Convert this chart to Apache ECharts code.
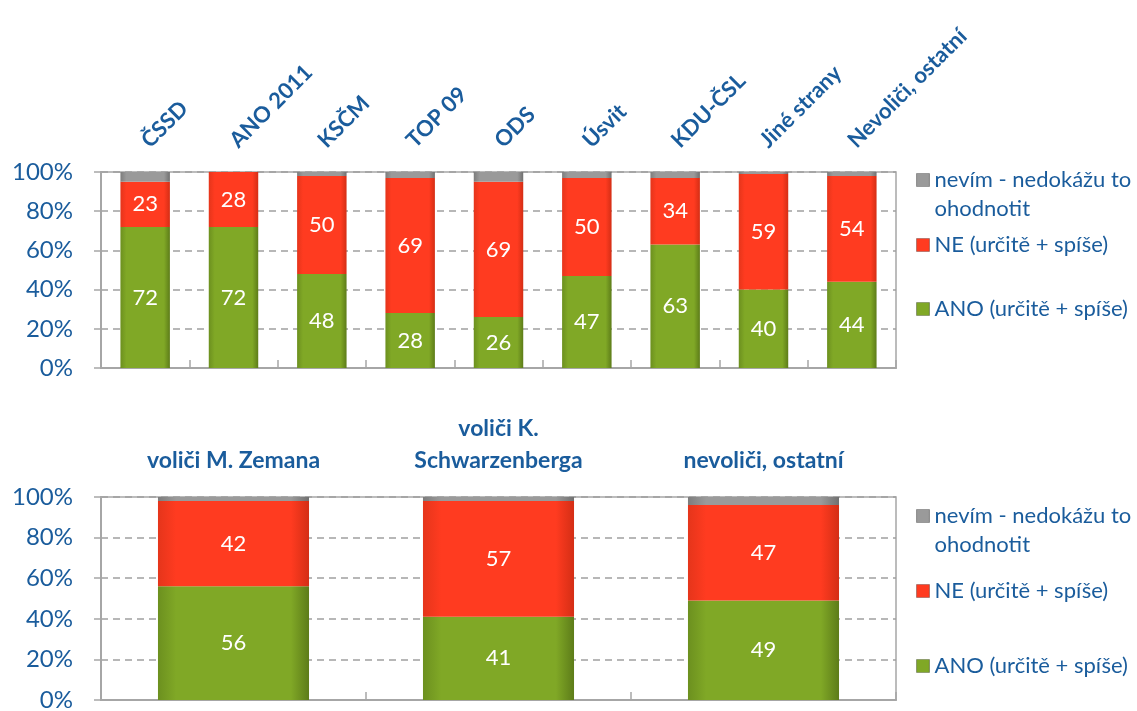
<!DOCTYPE html>
<html lang="cs">
<head>
    <meta charset="UTF-8">
    <title>Hodnocení</title>
    <script src="https://cdn.jsdelivr.net/npm/echarts@6/dist/echarts.min.js"></script>
    <style>
        html, body { margin: 0; padding: 0; background: #fff; }
        #chart { width: 1137px; height: 711px; }
    </style>
</head>
<body>
    <div id="chart"></div>
    <script>
        // horni graf - strany
        var topCats = ['ČSSD', 'ANO 2011', 'KSČM', 'TOP 09', 'ODS', 'Úsvit', 'KDU-ČSL', 'Jiné strany', 'Nevoliči, ostatní'];
        var topAno = [72, 72, 48, 28, 26, 47, 63, 40, 44];
        var topNe = [23, 28, 50, 69, 69, 50, 34, 59, 54];
        var topNevim = [5, 0, 2, 3, 5, 3, 3, 1, 2];

        // dolni graf - volici kandidatu
        var bottomCats = ['voliči M. Zemana', 'voliči K.\nSchwarzenberga', 'nevoliči, ostatní'];
        var bottomAno = [56, 41, 49];
        var bottomNe = [42, 57, 47];
        var bottomNevim = [2, 2, 4];

        var seriesNames = ['ANO (určitě + spíše)', 'NE (určitě + spíše)', 'nevím - nedokážu to\nohodnotit'];
        var yTicks = [0, 20, 40, 60, 80, 100];

        var FONT = 'Lato';
        var BLUE = '#1a5c9c';
        var AXIS = '#a6a6a6';

        function hGrad(edge, mid, edge2) {
            return new echarts.graphic.LinearGradient(0, 0, 1, 0, [
                { offset: 0, color: edge },
                { offset: 0.12, color: mid },
                { offset: 0.88, color: mid },
                { offset: 1, color: edge2 }
            ]);
        }
        var colors = [
            hGrad('#6c901f', '#80a826', '#5d7c19'),
            hGrad('#e5351b', '#ff3b20', '#d42e15'),
            hGrad('#7d7d7d', '#9a9a9a', '#707070')
        ];

        function yAxis(idx) {
            return {
                type: 'value',
                gridIndex: idx,
                min: yTicks[0],
                max: yTicks[yTicks.length - 1],
                interval: 20,
                axisLine: { show: true, lineStyle: { color: AXIS, width: 2 } },
                axisTick: { show: true, length: 7, lineStyle: { color: AXIS, width: 1.5 } },
                axisLabel: {
                    formatter: '{value}%',
                    color: BLUE,
                    fontFamily: FONT,
                    fontSize: 24,
                    margin: 28
                },
                splitLine: { show: true, lineStyle: { color: '#a0a0a0', width: 1.5, type: [7, 5] } }
            };
        }

        function xAxis(idx, cats, label) {
            return {
                type: 'category',
                gridIndex: idx,
                position: 'top',
                data: cats,
                axisLine: { show: true, lineStyle: { color: AXIS, width: 2 } },
                axisTick: { show: true, length: 8, lineStyle: { color: AXIS, width: 1.5 } },
                axisLabel: label
            };
        }

        function barSeries(idx, data, k, width) {
            return {
                name: seriesNames[k],
                type: 'bar',
                xAxisIndex: idx,
                yAxisIndex: idx,
                stack: 'st' + idx,
                barWidth: width,
                data: data,
                itemStyle: { color: colors[k] },
                label: {
                    show: k < 2,
                    position: 'inside',
                    color: '#fff',
                    fontFamily: FONT,
                    fontSize: 22
                },
                emphasis: { disabled: true }
            };
        }

        // legenda - kazda polozka zvlast kvuli rozestupum
        function legend(name, top, twoLine) {
            return {
                data: [name],
                left: 916,
                top: top,
                padding: 0,
                icon: 'rect',
                itemWidth: 13,
                itemHeight: 13,
                itemGap: 0,
                itemStyle: { borderColor: 'rgba(0,0,0,0.25)', borderWidth: 1 },
                // prazdny radek navic, aby ikonka sedela u prvniho radku
                formatter: twoLine ? function (n) { return '\n' + n; } : '{name}',
                textStyle: {
                    color: BLUE,
                    fontFamily: FONT,
                    fontSize: 22,
                    lineHeight: 29
                }
            };
        }

        var chart = echarts.init(document.getElementById('chart'));
        chart.setOption({
            animation: false,
            textStyle: { fontFamily: FONT },
            grid: [
                { left: 101, right: 241, top: 172, height: 196, show: true, borderColor: AXIS, borderWidth: 1.5, outerBoundsMode: 'none' },
                { left: 101, right: 241, top: 497, height: 203, show: true, borderColor: AXIS, borderWidth: 1.5, outerBoundsMode: 'none' }
            ],
            legend: [
                legend(seriesNames[2], 136.5, true),
                legend(seriesNames[1], 230.5, false),
                legend(seriesNames[0], 294.5, false),
                legend(seriesNames[2], 472.5, true),
                legend(seriesNames[1], 576.5, false),
                legend(seriesNames[0], 651.5, false)
            ],
            xAxis: [
                xAxis(0, topCats, {
                    interval: 0,
                    rotate: 45,
                    margin: 28,
                    color: BLUE,
                    fontFamily: FONT,
                    fontWeight: 'bold',
                    fontSize: 22
                }),
                xAxis(1, bottomCats, {
                    interval: 0,
                    margin: 20,
                    color: BLUE,
                    fontFamily: FONT,
                    fontWeight: 'bold',
                    fontSize: 23,
                    lineHeight: 32
                })
            ],
            yAxis: [yAxis(0), yAxis(1)],
            series: [
                barSeries(0, topAno, 0, '56%'),
                barSeries(0, topNe, 1, '56%'),
                barSeries(0, topNevim, 2, '56%'),
                barSeries(1, bottomAno, 0, '57%'),
                barSeries(1, bottomNe, 1, '57%'),
                barSeries(1, bottomNevim, 2, '57%')
            ]
        });
    </script>
</body>
</html>
